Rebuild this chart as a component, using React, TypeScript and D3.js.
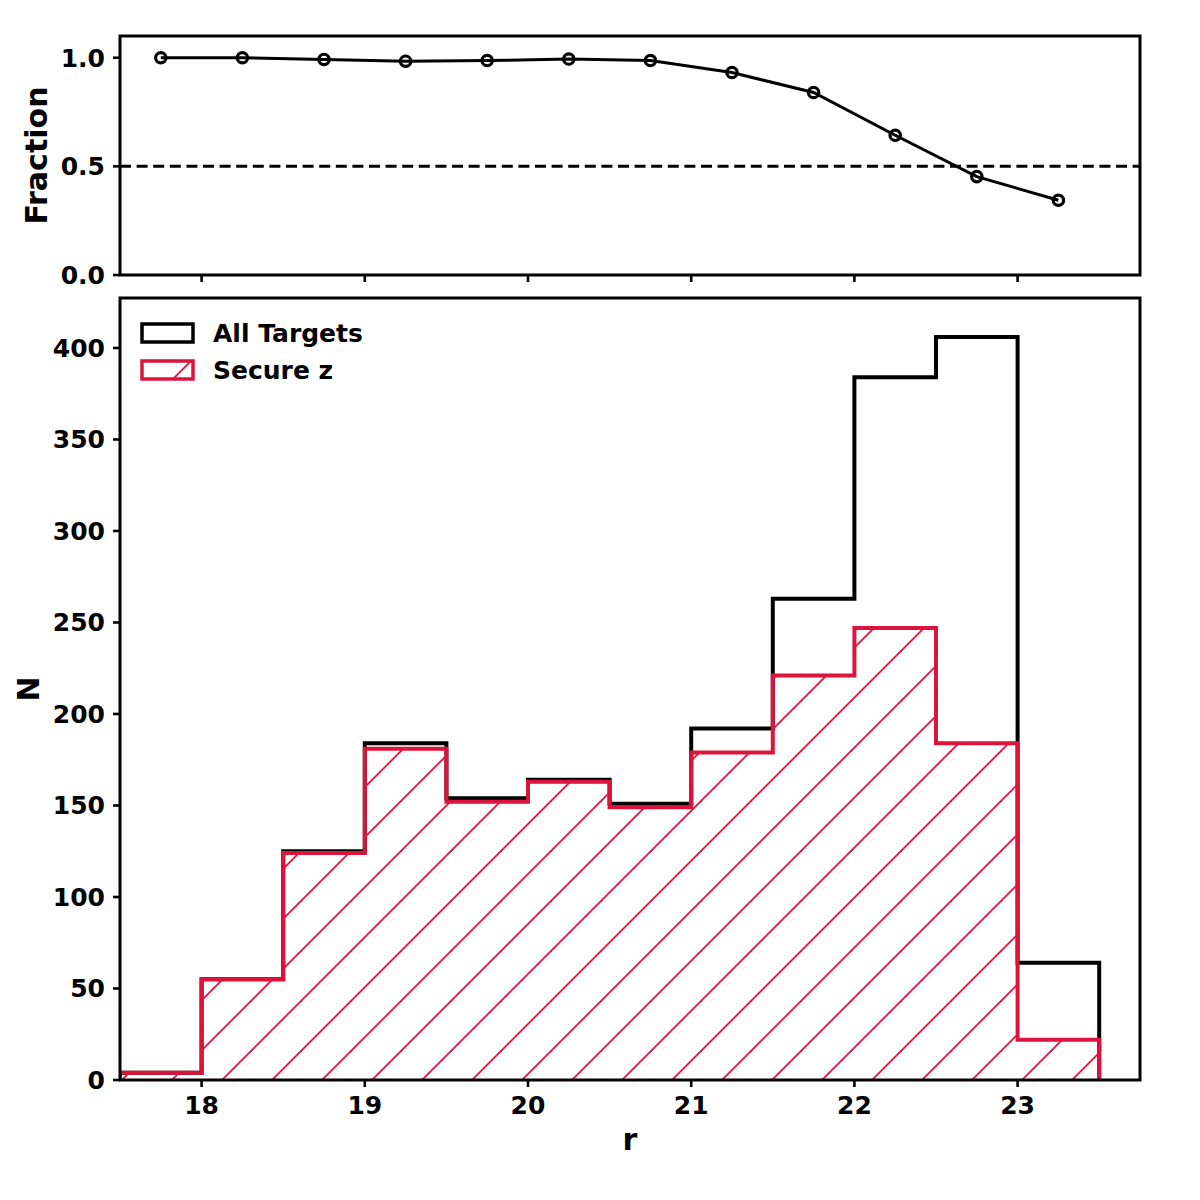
import React, { useEffect } from "react";
import * as d3 from "d3";

// r-magnitude bins (edges) and their centres
const binEdges = [17.5, 18, 18.5, 19, 19.5, 20, 20.5, 21, 21.5, 22, 22.5, 23, 23.5];
const binCentres = [17.75, 18.25, 18.75, 19.25, 19.75, 20.25, 20.75, 21.25, 21.75, 22.25, 22.75, 23.25];

// counts per bin
const allTargets = [4, 55, 125, 184, 154, 164, 151, 192, 263, 384, 406, 64];
const secureZ = [4, 55, 124, 181, 152, 163, 149, 179, 221, 247, 184, 22];

// secure fraction per bin
const fraction = [1.0, 1.0, 0.992, 0.984, 0.987, 0.994, 0.987, 0.932, 0.84, 0.643, 0.453, 0.344];

const xTicks = [18, 19, 20, 21, 22, 23];
const nTicks = [0, 50, 100, 150, 200, 250, 300, 350, 400];
const fracTicks = [0, 0.5, 1.0];

const RED = "#dc143c";
const FONT = "'DejaVu Sans', sans-serif";
const TICK_FS = 25;
const LABEL_FS = 30;

const W = 1200;
const H = 1200;
const left = 120;
const right = 1140;
const topY0 = 36;
const topY1 = 275;
const botY0 = 298;
const botY1 = 1080;

const x = d3.scaleLinear().domain([17.5, 23.75]).range([left, right]);
const yFrac = d3.scaleLinear().domain([0, 1.1]).range([topY1, topY0]);
const yN = d3.scaleLinear().domain([0, 427.3]).range([botY1, botY0]);

function stepPoints(counts: number[]): [number, number][] {
  const pts: [number, number][] = [[binEdges[0], 0]];
  counts.forEach((c, i) => {
    pts.push([binEdges[i], c]);
    pts.push([binEdges[i + 1], c]);
  });
  pts.push([binEdges[binEdges.length - 1], 0]);
  return pts;
}

const stepLine = d3
  .line<[number, number]>()
  .x((d) => x(d[0]))
  .y((d) => yN(d[1]));

const fracLine = d3
  .line<number>()
  .x((_, i) => x(binCentres[i]))
  .y((d) => yFrac(d));

const tickLen = 7;
const tickW = 2.6;
const spineW = 3;

export default function App() {
  useEffect(() => {
    document.body.style.margin = "0";
  }, []);

  const allPath = stepLine(stepPoints(allTargets)) || "";
  const securePath = stepLine(stepPoints(secureZ)) || "";

  return (
    <svg width={W} height={H} viewBox={`0 0 ${W} ${H}`} style={{ display: "block", background: "#fff" }}>
      <defs>
        <pattern id="hatch" patternUnits="userSpaceOnUse" x={2} y={0} width={50} height={50}>
          <line x1={0} y1={50} x2={50} y2={0} stroke={RED} strokeWidth={1.8} />
          <line x1={-5} y1={5} x2={5} y2={-5} stroke={RED} strokeWidth={1.8} />
          <line x1={45} y1={55} x2={55} y2={45} stroke={RED} strokeWidth={1.8} />
        </pattern>
        <clipPath id="clipTop">
          <rect x={left} y={topY0} width={right - left} height={topY1 - topY0} />
        </clipPath>
        <clipPath id="clipBot">
          <rect x={left} y={botY0} width={right - left} height={botY1 - botY0} />
        </clipPath>
      </defs>

      {/* upper panel: secure fraction */}
      <g clipPath="url(#clipTop)">
        <line
          x1={left}
          x2={right}
          y1={yFrac(0.5)}
          y2={yFrac(0.5)}
          stroke="#000"
          strokeWidth={3}
          strokeDasharray="11 5.6"
        />
        <path d={fracLine(fraction) || ""} fill="none" stroke="#000" strokeWidth={3} />
        {fraction.map((f, i) => (
          <circle key={i} cx={x(binCentres[i])} cy={yFrac(f)} r={5.2} fill="none" stroke="#000" strokeWidth={3.2} />
        ))}
      </g>
      <rect x={left} y={topY0} width={right - left} height={topY1 - topY0} fill="none" stroke="#000" strokeWidth={spineW} />
      {xTicks.map((t) => (
        <line key={t} x1={x(t)} x2={x(t)} y1={topY1} y2={topY1 + tickLen} stroke="#000" strokeWidth={tickW} />
      ))}
      {fracTicks.map((t) => (
        <g key={t} transform={`translate(${left},${yFrac(t)})`}>
          <line x1={-tickLen} x2={0} stroke="#000" strokeWidth={tickW} />
          <text x={-15} dy="0.36em" textAnchor="end" fontFamily={FONT} fontWeight="bold" fontSize={TICK_FS}>
            {t.toFixed(1)}
          </text>
        </g>
      ))}
      <text
        transform={`translate(47,${(topY0 + topY1) / 2}) rotate(-90)`}
        textAnchor="middle"
        fontFamily={FONT}
        fontWeight="bold"
        fontSize={LABEL_FS}
      >
        Fraction
      </text>

      {/* lower panel: histograms */}
      <g clipPath="url(#clipBot)">
        <path d={allPath} fill="none" stroke="#000" strokeWidth={4} strokeLinejoin="miter" />
        <path d={securePath} fill="url(#hatch)" stroke="none" />
        <path d={securePath} fill="none" stroke={RED} strokeWidth={4} strokeLinejoin="miter" />
      </g>
      <rect x={left} y={botY0} width={right - left} height={botY1 - botY0} fill="none" stroke="#000" strokeWidth={spineW} />
      {xTicks.map((t) => (
        <g key={t} transform={`translate(${x(t)},${botY1})`}>
          <line y1={0} y2={tickLen} stroke="#000" strokeWidth={tickW} />
          <text y={34} textAnchor="middle" fontFamily={FONT} fontWeight="bold" fontSize={TICK_FS}>
            {t}
          </text>
        </g>
      ))}
      {nTicks.map((t) => (
        <g key={t} transform={`translate(${left},${yN(t)})`}>
          <line x1={-tickLen} x2={0} stroke="#000" strokeWidth={tickW} />
          <text x={-15} dy="0.36em" textAnchor="end" fontFamily={FONT} fontWeight="bold" fontSize={TICK_FS}>
            {t}
          </text>
        </g>
      ))}
      <text
        transform={`translate(39,${(botY0 + botY1) / 2}) rotate(-90)`}
        textAnchor="middle"
        fontFamily={FONT}
        fontWeight="bold"
        fontSize={LABEL_FS}
      >
        N
      </text>
      <text x={(left + right) / 2} y={1150} textAnchor="middle" fontFamily={FONT} fontWeight="bold" fontSize={LABEL_FS}>
        r
      </text>

      {/* legend */}
      <g fontFamily={FONT} fontWeight="bold" fontSize={TICK_FS}>
        <rect x={142} y={324} width={51} height={18} fill="none" stroke="#000" strokeWidth={3.5} />
        <text x={213} y={342}>All Targets</text>
        <rect x={142} y={361} width={51} height={18} fill="url(#hatch)" stroke={RED} strokeWidth={3.5} />
        <text x={213} y={379}>Secure z</text>
      </g>
    </svg>
  );
}
